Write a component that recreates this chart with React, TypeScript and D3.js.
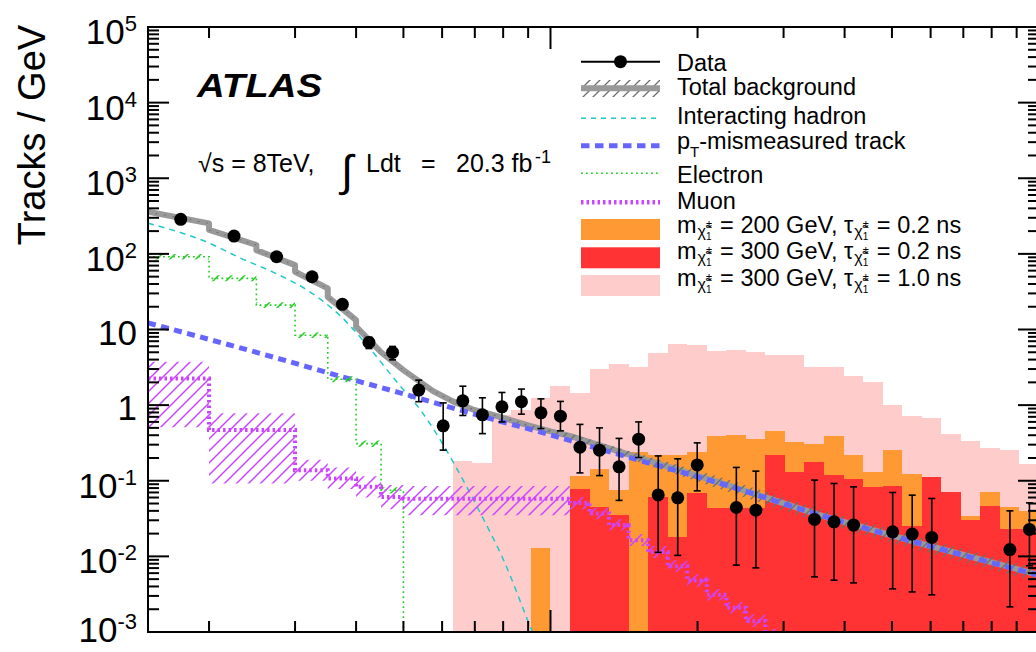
import React from 'react';
import * as d3 from 'd3';

// Tracklet pT bin edges [GeV]: 5 GeV bins to 50, one 50-57.5 bin, then 0.04-decade bins to 1 TeV
const BIN_EDGES = [15, 20, 25, 30, 35, 40, 45, 50, 57.5, 63.1, 69.2, 75.9, 83.2, 91.2, 100, 109.6, 120.2,
  131.8, 144.5, 158.5, 173.8, 190.5, 208.9, 229.1, 251.2, 275.4, 302, 331.1, 363.1, 398.1, 436.5, 478.6,
  524.8, 575.4, 631, 691.8, 758.6, 831.8, 912, 1000];

// Observed tracks / GeV and the ends of their error bars (null = empty bin)
const DATA_VAL = [286, 172, 91.6, 49.8, 21.5, 6.75, 4.97, 1.58,
  0.532, 1.14, 0.745, 0.95, 1.11, 0.79, 0.715, 0.278, 0.254, 0.153, 0.355, 0.065, 0.0594, 0.162, null,
  0.0443, 0.0408, null, null, 0.0308, 0.0286, 0.0259, null, 0.0211, 0.0197, 0.0178, null, null, null, 0.0123, 0.0227];
const DATA_LO = [279, 166, 87.3, 46.7, 19.4, 5.6, 3.97, 1.11,
  0.254, 0.73, 0.42, 0.6, 0.76, 0.49, 0.457, 0.127, 0.117, 0.055, 0.203, 0.0113, 0.0103, 0.0735, null,
  0.00766, 0.00705, null, null, 0.00536, 0.00484, 0.00446, null, 0.00372, 0.00339, 0.0031, null, null, null, 0.00215, 0.0075];
const DATA_HI = [293, 178, 95.9, 52.9, 23.6, 7.9, 5.97, 2.14,
  1.07, 1.78, 1.25, 1.47, 1.63, 1.21, 1.12, 0.556, 0.5, 0.363, 0.6, 0.213, 0.195, 0.317, null,
  0.15, 0.134, null, null, 0.102, 0.092, 0.083, null, 0.07, 0.0645, 0.0583, null, null, null, 0.04, 0.051];

// Signal expectations (tracks / GeV)
const SIG_M200_T02 = [0, 0, 0, 0, 0, 0, 0, 0, 0, 0, 0, 0, 0,
  0.013, 0, 0.115, 0.142, 0.075, 0.237, 0.218, 0.218, 0.24, 0.389, 0.397, 0.352, 0.453, 0.327, 0.305,
  0.389, 0.218, 0.131, 0.254, 0.121, 0.105, 0.06, 0.034, 0.0713, 0.045, 0.0396];
const SIG_M300_T02 = [0, 0, 0, 0, 0, 0, 0, 0, 0, 0, 0, 0, 0, 0, 0,
  0.0774, 0.045, 0.035, 0, 0.061, 0.0178, 0.069, 0.0438, 0.0438, 0.0438, 0.218, 0.131, 0.175, 0.119,
  0.105, 0.083, 0.0857, 0.0253, 0.113, 0.0713, 0.03, 0.0466, 0.0227, 0.0227];
const SIG_M300_T10 = [0, 0, 0, 0, 0, 0, 0, 0, 0,
  0.182, 0.173, 0.73, 0.86, 1.23, 1.8, 1.46, 2.99, 3.45, 3.21, 4.92, 6.35, 6.22, 5.22, 5.33, 4.98, 4.58,
  4.58, 3.21, 3.21, 2.42, 2.0, 1.0, 0.72, 0.667, 0.42, 0.337, 0.272, 0.254, 0.166];

// Electron and muon background histograms with their uncertainty bands
const ELECTRON = [91.6, 47.5, 21, 8.4, 2.2, 0.31, 0.075, 0, 0, 0, 0, 0, 0, 0, 0, 0, 0, 0, 0, 0, 0, 0, 0,
  0, 0, 0, 0, 0, 0, 0, 0, 0, 0, 0, 0, 0, 0, 0, 0];
const ELECTRON_LO = [84, 43.5, 19.3, 7.7, 2.0, 0.28, 0.068];
const ELECTRON_HI = [100, 52, 23, 9.2, 2.4, 0.34, 0.082];
const MUON = [2.25, 0.47, 0.47, 0.138, 0.107, 0.083, 0.061, 0.058,
  0.058, 0.058, 0.058, 0.058, 0.058, 0.058, 0.058, 0.0506, 0.037, 0.026, 0.0164, 0.0114, 0.0074, 0.0048,
  0.0031, 0.0021, 0.0014, 0.0009, 0.0006, 0, 0, 0, 0, 0, 0, 0, 0, 0, 0, 0, 0];
const MUON_LO = [0.51, 0.092, 0.092, 0.1, 0.078, 0.06, 0.042, 0.035,
  0.035, 0.035, 0.035, 0.035, 0.035, 0.035, 0.035, 0.042, 0.031, 0.022, 0.0137, 0.0095, 0.0062, 0.004,
  0.0026, 0.00175, 0.00117, 0.00075, 0.0005, 0, 0, 0, 0, 0, 0, 0, 0, 0, 0, 0, 0];
const MUON_HI = [3.74, 0.78, 0.78, 0.19, 0.15, 0.115, 0.088, 0.085,
  0.085, 0.085, 0.085, 0.085, 0.085, 0.085, 0.085, 0.061, 0.044, 0.031, 0.0197, 0.0137, 0.0089, 0.0058,
  0.0037, 0.0025, 0.0017, 0.0011, 0.0007, 0, 0, 0, 0, 0, 0, 0, 0, 0, 0, 0, 0];

// Fitted interacting-hadron and pT-mismeasured components (pT [GeV], tracks / GeV)
const HADRON_PT = [15, 20, 23.2, 27.1, 31.8, 37.2, 41.8, 48.7, 54.2, 59.6, 63.9, 71.9, 80.2, 91.9, 100];
const HADRON_VAL = [255, 139, 88, 57, 33, 15, 6.6, 1.95, 0.86, 0.34, 0.156, 0.037, 0.0089, 0.001, 0.0003];
const PTMIS_PT = [15, 28, 35.5, 48.6, 66.4, 77.9, 95.4, 109.9, 147.8, 222.7, 356.5, 571, 1000];
const PTMIS_VAL = [12.2, 4.06, 2.61, 1.486, 0.833, 0.624, 0.44, 0.339, 0.196, 0.092, 0.0351, 0.0148, 0.00564];

// Total background curve and its relative uncertainty
const TOTAL_PT = [15, 20, 20, 25, 25, 30, 30, 35, 35, 40, 40, 45, 50, 57.5, 63.1, 69.2, 75.9, 83.2, 91.2,
  100, 110, 148, 223, 356, 571, 1000];
const TOTAL_VAL = [360, 253, 207, 131, 112, 71, 58, 35, 27, 13.3, 10.9, 5.0, 2.9, 1.53, 1.12, 0.88, 0.75,
  0.63, 0.527, 0.45, 0.39, 0.212, 0.094, 0.0351, 0.0149, 0.0057];
const TOTAL_ERR = [0.02, 0.02, 0.02, 0.02, 0.02, 0.02, 0.02, 0.02, 0.02, 0.02, 0.02, 0.02, 0.02, 0.02, 0.03,
  0.03, 0.03, 0.03, 0.04, 0.05, 0.07, 0.12, 0.18, 0.2, 0.2, 0.2];

// Axes
const Y_MIN = 1e-3;
const Y_MAX = 1e5;
const Y_DECADES = [-3, -2, -1, 0, 1, 2, 3, 4, 5];
const MINOR_MULT = [2, 3, 4, 5, 6, 7, 8, 9];
const X_MINOR = [20, 30, 40, 50, 60, 70, 80, 90, 200, 300, 400, 500, 600, 700, 800, 900];
const X_MAJOR = [100, 1000];

const FONT = '"Liberation Sans", Arial, Helvetica, sans-serif';
const C_ORANGE = '#ff9933';
const C_RED = '#ff3333';
const C_PINK = '#ffcccc';
const C_GRAY = '#999999';
const C_CYAN = '#22c8c8';
const C_BLUE = '#6666ff';
const C_GREEN = '#22cc22';
const C_MUON = '#cc44ff';

export default function App() {
  const W = 1036, H = 652;
  const left = 148, right = 1039, top = 27, bottom = 632;

  const x = d3.scaleLog().domain([BIN_EDGES[0], BIN_EDGES[BIN_EDGES.length - 1]]).range([left, right]);
  const y = d3.scaleLog().domain([Y_MIN, Y_MAX]).range([bottom, top]);
  const yv = (v: number | null) => (v != null && v > 0 ? Math.min(y(v), bottom + 60) : bottom + 60);

  const bins = d3.range(BIN_EDGES.length - 1).map((i) => ({
    i,
    x0: x(BIN_EDGES[i]),
    x1: x(BIN_EDGES[i + 1]),
    xc: x((BIN_EDGES[i] + BIN_EDGES[i + 1]) / 2),
  }));

  const histFill = (vals: number[]) =>
    bins
      .filter((b) => vals[b.i] > Y_MIN)
      .map((b) => `M${b.x0},${bottom}V${y(vals[b.i])}H${b.x1}V${bottom}Z`)
      .join('');

  const stepLine = (vals: number[]) =>
    bins.map((b, k) => `${k === 0 ? 'M' : 'L'}${b.x0},${yv(vals[b.i])}L${b.x1},${yv(vals[b.i])}`).join('');

  const bandPath = (lo: number[], hi: number[]) =>
    bins
      .filter((b) => lo[b.i] > 0 && hi[b.i] > 0)
      .map((b) => `M${b.x0},${yv(hi[b.i])}H${b.x1}V${yv(lo[b.i])}H${b.x0}Z`)
      .join('');

  const curve = (pts: number[], vals: number[], smooth: boolean) =>
    d3.line<number>()
      .x((_, i) => x(pts[i]))
      .y((v) => yv(v))
      .curve(smooth ? d3.curveMonotoneX : d3.curveLinear)(vals) || '';

  const totalBand =
    d3.area<number>()
      .x((_, i) => x(TOTAL_PT[i]))
      .y0((v, i) => y(v * (1 - TOTAL_ERR[i])))
      .y1((v, i) => y(v * (1 + TOTAL_ERR[i])))(TOTAL_VAL) || '';

  const yMinor: number[] = [];
  Y_DECADES.slice(0, -1).forEach((e) => MINOR_MULT.forEach((m) => yMinor.push(m * Math.pow(10, e))));

  const legendX0 = 581, legendX1 = 660, legendText = 677;
  const chiSub = (
    <>
      <tspan fontSize={16} dy={4} dx={1}>{'\u03C7\u0303'}</tspan>
      <tspan fontSize={11} dy={-9}>±</tspan>
      <tspan fontSize={10} dx={-6} dy={12}>1</tspan>
    </>
  );
  const signalLabel = (mass: string, tau: string) => (
    <>
      m{chiSub}
      <tspan fontSize={23.5} dy={-7} dx={2}>{` = ${mass} GeV, τ`}</tspan>
      {chiSub}
      <tspan fontSize={23.5} dy={-7} dx={2}>{` = ${tau} ns`}</tspan>
    </>
  );

  return (
    <div style={{ position: 'absolute', left: 0, top: 0 }}>
      <svg width={W} height={H} viewBox={`0 0 ${W} ${H}`} style={{ display: 'block', fontFamily: FONT }}>
        <defs>
          <clipPath id="plotArea">
            <rect x={left} y={top} width={right - left} height={bottom - top} />
          </clipPath>
          <pattern id="hatchMuon" patternUnits="userSpaceOnUse" width={12} height={12}>
            <path d="M-3,3L3,-3M0,12L12,0M9,15L15,9" stroke={C_MUON} strokeWidth={1.5} />
          </pattern>
          <pattern id="hatchElectron" patternUnits="userSpaceOnUse" width={13} height={13}>
            <path d="M-3,3L3,-3M0,13L13,0M10,16L16,10" stroke={C_GREEN} strokeWidth={1.5} />
          </pattern>
          <pattern id="hatchTotal" patternUnits="userSpaceOnUse" width={10} height={10}>
            <path d="M-3,3L3,-3M0,10L10,0M7,13L13,7" stroke="#6e6e6e" strokeWidth={1.3} />
          </pattern>
        </defs>

        <rect x={0} y={0} width={W} height={H} fill="#ffffff" />

        <g clipPath="url(#plotArea)">
          {/* signal hypotheses */}
          <path d={histFill(SIG_M300_T10)} fill={C_PINK} shapeRendering="crispEdges" />
          <path d={histFill(SIG_M200_T02)} fill={C_ORANGE} shapeRendering="crispEdges" />
          <path d={histFill(SIG_M300_T02)} fill={C_RED} shapeRendering="crispEdges" />

          {/* total background */}
          <path d={curve(TOTAL_PT, TOTAL_VAL, false)} fill="none" stroke={C_GRAY} strokeWidth={6} strokeLinejoin="round" />
          <path d={totalBand} fill="url(#hatchTotal)" stroke="none" />

          {/* background components */}
          <path d={curve(HADRON_PT, HADRON_VAL, true)} fill="none" stroke={C_CYAN} strokeWidth={1.5} strokeDasharray="6 5" />
          <path d={curve(PTMIS_PT, PTMIS_VAL, true)} fill="none" stroke={C_BLUE} strokeWidth={5} strokeDasharray="8 5.5" />
          <path d={bandPath(ELECTRON_LO.concat(ELECTRON.slice(ELECTRON_LO.length)), ELECTRON_HI.concat(ELECTRON.slice(ELECTRON_HI.length)))} fill="url(#hatchElectron)" />
          <path d={stepLine(ELECTRON)} fill="none" stroke={C_GREEN} strokeWidth={1.6} strokeDasharray="1.8 3.2" />
          <path d={bandPath(MUON_LO, MUON_HI)} fill="url(#hatchMuon)" />
          <path d={stepLine(MUON)} fill="none" stroke={C_MUON} strokeWidth={4} strokeDasharray="2.5 3" />

          {/* data */}
          {bins.map((b) => {
            const v = DATA_VAL[b.i];
            if (v == null) return null;
            const lo = DATA_LO[b.i] as number, hi = DATA_HI[b.i] as number;
            return (
              <g key={b.i}>
                <line x1={b.xc} x2={b.xc} y1={yv(hi)} y2={yv(lo)} stroke="#000" strokeWidth={1.6} />
                <line x1={b.xc - 3.5} x2={b.xc + 3.5} y1={yv(hi)} y2={yv(hi)} stroke="#000" strokeWidth={1.6} />
                <line x1={b.xc - 3.5} x2={b.xc + 3.5} y1={yv(lo)} y2={yv(lo)} stroke="#000" strokeWidth={1.6} />
                <circle cx={b.xc} cy={y(v)} r={6.5} fill="#000" />
              </g>
            );
          })}
        </g>

        {/* frame and ticks */}
        <g stroke="#000" strokeWidth={2} fill="none">
          <rect x={left} y={top} width={right - left} height={bottom - top} />
          {Y_DECADES.map((e) => {
            const t = y(Math.pow(10, e));
            return (
              <g key={'ym' + e}>
                <line x1={left} x2={left + 21} y1={t} y2={t} />
                <line x1={right} x2={right - 21} y1={t} y2={t} />
              </g>
            );
          })}
          {yMinor.map((v, i) => {
            const t = y(v);
            return (
              <g key={'yn' + i}>
                <line x1={left} x2={left + 11} y1={t} y2={t} />
                <line x1={right} x2={right - 11} y1={t} y2={t} />
              </g>
            );
          })}
          {X_MINOR.map((v) => (
            <g key={'xn' + v}>
              <line x1={x(v)} x2={x(v)} y1={bottom} y2={bottom - 11} />
              <line x1={x(v)} x2={x(v)} y1={top} y2={top + 11} />
            </g>
          ))}
          {X_MAJOR.map((v) => (
            <g key={'xm' + v}>
              <line x1={x(v)} x2={x(v)} y1={bottom} y2={bottom - 22} />
              <line x1={x(v)} x2={x(v)} y1={top} y2={top + 22} />
            </g>
          ))}
        </g>

        {/* y tick labels */}
        <g fill="#000">
          {Y_DECADES.map((e) => {
            const t = y(Math.pow(10, e));
            if (e === 0 || e === 1) {
              return (
                <text key={'yl' + e} x={137} y={t + 15} textAnchor="end" fontSize={35}>
                  {e === 0 ? '1' : '10'}
                </text>
              );
            }
            const base = e === Y_DECADES[0] ? t + 10 : t + 17;
            return (
              <text key={'yl' + e} x={137} y={base} textAnchor="end" fontSize={35}>
                10<tspan fontSize={22} dy={-13}>{String(e)}</tspan>
              </text>
            );
          })}
        </g>

        {/* y axis title */}
        <text transform="translate(45,135) rotate(-90)" textAnchor="middle" fontSize={38} fill="#000">
          Tracks / GeV
        </text>

        {/* experiment label */}
        <text x={197} y={97} fontSize={33} fontWeight="bold" fontStyle="italic" textLength={125} lengthAdjust="spacingAndGlyphs">
          ATLAS
        </text>
        <text x={198} y={172} fontSize={25}>√s = 8TeV,</text>
        <text x={341} y={186} fontSize={44}>∫</text>
        <text x={366} y={172} fontSize={25}>Ldt</text>
        <text x={421} y={172} fontSize={25}>=</text>
        <text x={456} y={172} fontSize={25}>20.3 fb</text>
        <text x={535} y={163} fontSize={18}>-1</text>

        {/* legend */}
        <g>
          <line x1={legendX0} x2={legendX1} y1={61.7} y2={61.7} stroke="#000" strokeWidth={2} />
          <circle cx={(legendX0 + legendX1) / 2} cy={61.7} r={6.5} fill="#000" />
          <text x={legendText} y={70.5} fontSize={23.5}>Data</text>

          <rect x={legendX0} y={80} width={legendX1 - legendX0} height={17} fill="url(#hatchTotal)" />
          <line x1={legendX0} x2={legendX1} y1={88.3} y2={88.3} stroke={C_GRAY} strokeWidth={6} />
          <text x={legendText} y={94.5} fontSize={23.5}>Total background</text>

          <line x1={legendX0} x2={legendX1} y1={118.3} y2={118.3} stroke={C_CYAN} strokeWidth={1.5} strokeDasharray="5 5" />
          <text x={legendText} y={124} fontSize={23.5}>Interacting hadron</text>

          <line x1={legendX0} x2={legendX1} y1={145.7} y2={145.7} stroke={C_BLUE} strokeWidth={5} strokeDasharray="8.5 5.5" />
          <text x={legendText} y={149} fontSize={23.5}>
            p<tspan fontSize={15} dy={8}>T</tspan><tspan fontSize={23.5} dy={-8}>-mismeasured track</tspan>
          </text>

          <line x1={legendX0} x2={legendX1} y1={173.3} y2={173.3} stroke={C_GREEN} strokeWidth={1.6} strokeDasharray="1.8 3.2" />
          <text x={legendText} y={182.5} fontSize={23.5}>Electron</text>

          <line x1={legendX0} x2={legendX1} y1={202.3} y2={202.3} stroke={C_MUON} strokeWidth={4.5} strokeDasharray="2.5 3" />
          <text x={legendText} y={209} fontSize={23.5}>Muon</text>

          <rect x={legendX0} y={219} width={legendX1 - legendX0} height={21} fill={C_ORANGE} />
          <text x={legendText} y={232.5} fontSize={23.5}>{signalLabel('200', '0.2')}</text>

          <rect x={legendX0} y={247.3} width={legendX1 - legendX0} height={21} fill={C_RED} />
          <text x={legendText} y={259} fontSize={23.5}>{signalLabel('300', '0.2')}</text>

          <rect x={legendX0} y={275} width={legendX1 - legendX0} height={21} fill={C_PINK} />
          <text x={legendText} y={286} fontSize={23.5}>{signalLabel('300', '1.0')}</text>
        </g>
      </svg>
    </div>
  );
}
